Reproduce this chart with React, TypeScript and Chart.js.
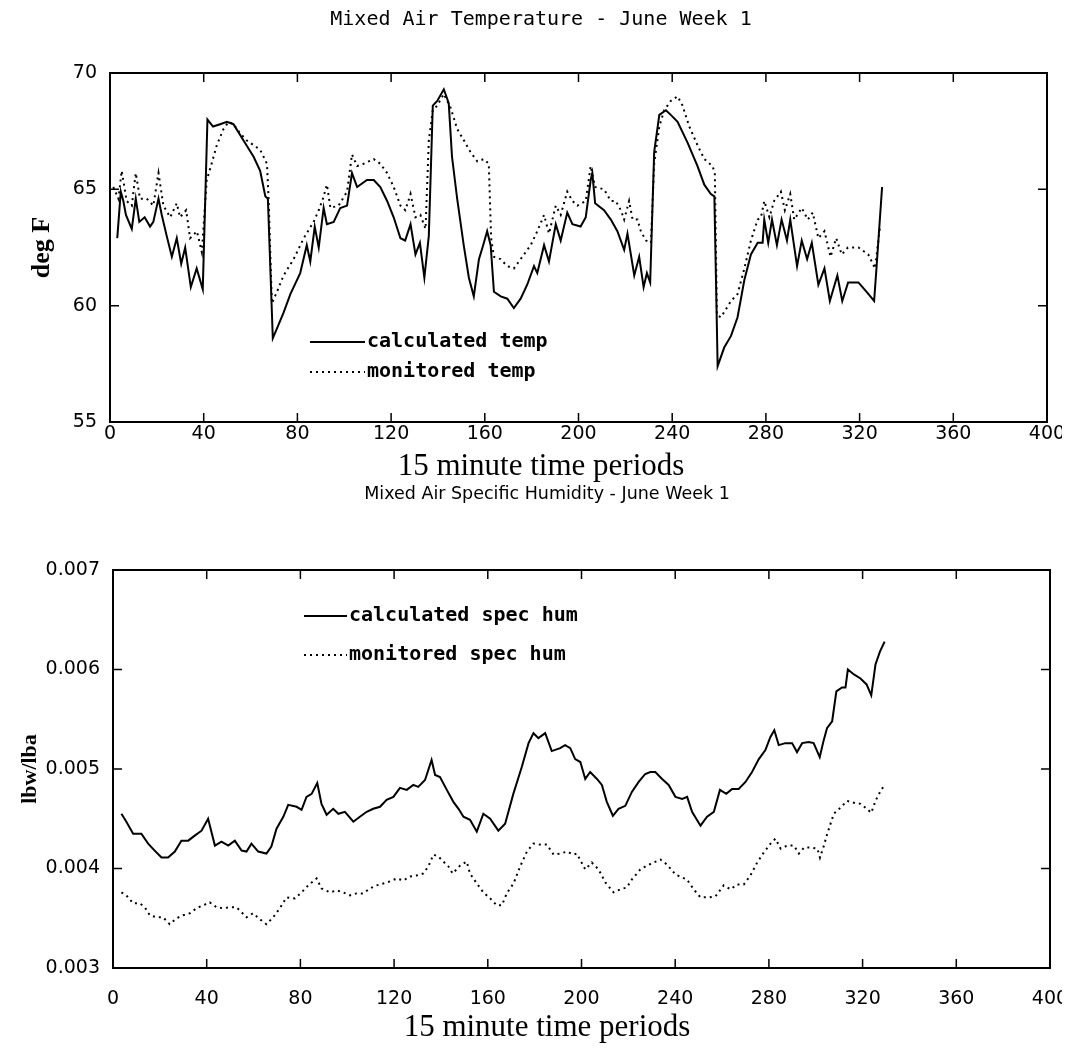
import React, { useEffect, useRef } from "react";
import { Chart, registerables } from "chart.js";

Chart.register(...registerables);

// ---------- Data: Mixed Air Temperature ----------
const tempTitle = "Mixed Air Temperature - June Week 1";
const tempYLabel = "deg F";
const xTitle = "15 minute time periods";
const xTicks = [0, 40, 80, 120, 160, 200, 240, 280, 320, 360, 400];
const tempYTicks = [55, 60, 65, 70];

const calcTempX = [3.1, 4.6, 5.7, 6.8, 9.3, 11.0, 12.5, 14.8, 17.1, 18.5, 20.7, 22.1, 24.2, 26.4, 28.5, 30.4, 32.1, 34.5, 37.0, 39.6, 41.6, 44.0, 47.0, 49.9, 52.7, 57.0, 61.3, 64.1, 66.3, 67.4, 69.5, 71.2, 74.1, 77.0, 81.2, 84.0, 85.5, 87.4, 89.1, 91.2, 92.6, 95.5, 98.3, 101.2, 103.3, 105.5, 109.7, 112.6, 115.4, 118.3, 121.1, 124.0, 126.0, 128.3, 130.4, 132.3, 134.2, 136.1, 137.8, 139.7, 142.5, 144.6, 146.0, 148.2, 151.0, 153.2, 155.3, 157.5, 159.3, 161.0, 162.5, 163.9, 166.8, 169.6, 172.4, 175.3, 178.1, 181.0, 182.4, 185.3, 187.4, 190.3, 192.4, 195.2, 197.4, 200.9, 203.1, 205.2, 205.9, 207.1, 210.9, 213.8, 216.6, 219.5, 220.9, 223.8, 225.9, 227.8, 229.2, 230.6, 232.3, 234.5, 237.3, 239.4, 242.3, 246.6, 250.8, 253.7, 256.5, 258.0, 259.4, 262.2, 265.1, 267.9, 270.8, 273.6, 276.5, 278.6, 279.3, 281.0, 282.6, 284.7, 286.7, 289.0, 290.4, 293.3, 295.3, 297.6, 299.6, 302.4, 305.0, 307.3, 310.5, 312.6, 315.1, 319.5, 322.9, 326.2, 327.2, 329.6];
const calcTempY = [62.9, 64.9, 64.5, 63.9, 63.3, 64.6, 63.6, 63.8, 63.4, 63.6, 64.6, 63.9, 63.0, 62.1, 62.9, 61.8, 62.5, 60.8, 61.6, 60.7, 68.0, 67.7, 67.8, 67.9, 67.8, 67.1, 66.4, 65.8, 64.7, 64.6, 58.6, 59.0, 59.7, 60.5, 61.4, 62.6, 61.9, 63.4, 62.5, 64.2, 63.5, 63.6, 64.2, 64.3, 65.7, 65.1, 65.4, 65.4, 65.1, 64.5, 63.8, 62.9, 62.8, 63.5, 62.2, 62.7, 61.2, 63.0, 68.6, 68.8, 69.3, 68.7, 66.4, 64.6, 62.6, 61.2, 60.4, 62.0, 62.6, 63.2, 62.6, 60.6, 60.4, 60.3, 59.9, 60.3, 60.9, 61.7, 61.4, 62.6, 61.9, 63.5, 62.8, 64.0, 63.5, 63.4, 63.8, 65.4, 65.7, 64.4, 64.1, 63.7, 63.2, 62.4, 63.1, 61.3, 62.1, 60.8, 61.4, 61.0, 66.6, 68.2, 68.4, 68.2, 67.9, 67.0, 66.0, 65.2, 64.8, 64.7, 57.4, 58.2, 58.7, 59.5, 61.1, 62.2, 62.7, 62.7, 63.7, 62.7, 63.7, 62.6, 63.7, 62.8, 63.7, 61.7, 62.8, 62.0, 62.7, 60.9, 61.6, 60.2, 61.3, 60.2, 61.0, 61.0, 60.6, 60.2, 61.6, 65.1];

const monTempX = [1.4, 3.6, 5.0, 7.1, 9.3, 11.0, 12.8, 15.7, 18.5, 20.7, 22.8, 25.7, 28.5, 29.9, 32.5, 34.2, 37.1, 39.2, 41.3, 42.8, 45.6, 48.5, 50.6, 52.7, 55.6, 58.4, 61.3, 64.1, 67.0, 67.7, 69.1, 71.3, 74.1, 78.4, 82.7, 86.9, 89.1, 90.9, 92.6, 94.1, 97.6, 101.2, 103.3, 105.5, 108.3, 112.6, 115.4, 118.3, 121.1, 124.0, 126.1, 128.3, 130.4, 132.5, 134.7, 136.1, 137.8, 139.7, 142.5, 145.4, 148.2, 151.1, 153.9, 156.8, 159.6, 161.7, 162.7, 163.9, 166.7, 169.6, 172.4, 175.3, 179.6, 182.4, 185.3, 187.4, 190.3, 192.4, 195.2, 197.4, 199.5, 203.1, 205.2, 207.1, 210.9, 213.8, 215.9, 218.1, 219.5, 221.6, 223.1, 225.2, 226.6, 228.8, 230.9, 232.3, 234.5, 236.6, 239.4, 242.3, 244.4, 247.3, 250.8, 253.7, 257.2, 258.2, 259.1, 260.8, 265.1, 267.9, 270.8, 273.6, 276.5, 277.9, 279.3, 281.5, 283.5, 286.4, 288.1, 290.4, 292.1, 295.3, 297.9, 300.0, 302.4, 305.0, 307.6, 310.0, 312.4, 315.0, 319.5, 323.7, 326.6, 328.7];
const monTempY = [65.1, 64.6, 65.8, 64.5, 64.3, 65.7, 64.6, 64.6, 64.3, 65.7, 64.3, 63.8, 64.4, 63.8, 64.1, 62.9, 63.2, 62.3, 65.4, 65.9, 66.9, 67.6, 67.9, 67.8, 67.4, 67.1, 66.9, 66.7, 66.1, 64.6, 60.1, 60.6, 61.3, 62.0, 62.9, 63.6, 64.1, 64.6, 65.2, 64.2, 64.3, 64.9, 66.5, 66.0, 66.1, 66.3, 66.1, 65.7, 65.1, 64.3, 64.1, 64.8, 63.8, 63.9, 63.3, 67.1, 68.4, 68.6, 69.1, 68.5, 67.6, 67.1, 66.6, 66.2, 66.3, 66.1, 62.9, 62.1, 62.0, 61.7, 61.6, 62.0, 62.6, 63.2, 63.9, 63.1, 64.3, 63.9, 64.9, 64.5, 64.3, 64.5, 66.0, 65.1, 65.0, 64.5, 64.5, 64.1, 63.7, 64.5, 63.7, 63.7, 63.2, 62.8, 62.7, 66.1, 67.7, 68.4, 68.8, 69.0, 68.6, 67.7, 66.9, 66.3, 66.0, 65.7, 59.6, 59.5, 60.2, 60.5, 61.6, 62.8, 63.7, 63.8, 64.5, 63.8, 64.5, 64.9, 64.1, 64.8, 63.7, 64.2, 63.7, 64.0, 62.9, 63.2, 62.1, 62.9, 62.2, 62.5, 62.5, 62.2, 61.6, 63.4];

// ---------- Data: Mixed Air Specific Humidity ----------
const humTitle = "Mixed Air Specific Humidity - June Week 1";
const humYLabel = "lbw/lba";
const humYTicks = [0.003, 0.004, 0.005, 0.006, 0.007];

const calcHumX = [3.6, 5.7, 8.6, 12.1, 15.0, 17.8, 20.7, 23.5, 26.4, 29.2, 32.1, 34.9, 37.8, 40.6, 43.5, 46.3, 49.2, 52.0, 54.9, 57.0, 59.1, 62.0, 65.5, 67.6, 69.8, 72.7, 74.8, 78.4, 80.5, 82.6, 84.8, 87.2, 89.0, 91.2, 94.0, 96.2, 99.0, 102.6, 105.4, 108.3, 111.1, 114.0, 116.8, 119.7, 122.5, 125.4, 128.2, 130.3, 133.2, 136.0, 137.5, 139.6, 142.5, 145.3, 147.5, 149.6, 152.4, 155.3, 158.1, 161.0, 164.5, 167.4, 170.9, 174.5, 177.4, 179.5, 181.6, 184.5, 187.3, 190.9, 193.0, 195.2, 197.3, 199.5, 201.6, 203.7, 206.6, 208.7, 210.8, 213.4, 215.8, 218.7, 221.5, 224.4, 227.2, 229.4, 231.5, 234.4, 237.2, 240.1, 243.0, 245.1, 247.2, 250.8, 253.6, 256.5, 259.1, 261.8, 264.3, 267.1, 270.0, 272.8, 275.7, 278.5, 280.6, 282.3, 284.2, 287.0, 289.9, 292.0, 294.2, 297.0, 299.1, 301.7, 303.4, 304.8, 307.0, 308.8, 311.2, 312.7, 313.7, 316.3, 319.1, 321.7, 323.7, 325.5, 327.4, 329.4];
const calcHumY = [0.00455, 0.00447, 0.00435, 0.00435, 0.00425, 0.00418, 0.00411, 0.00411, 0.00417, 0.00428, 0.00428, 0.00433, 0.00438, 0.0045, 0.00423, 0.00427, 0.00423, 0.00428, 0.00418, 0.00417, 0.00425, 0.00417, 0.00415, 0.00422, 0.0044, 0.00452, 0.00464, 0.00462, 0.00459, 0.00472, 0.00475, 0.00486, 0.00465, 0.00454, 0.0046, 0.00455, 0.00457, 0.00447, 0.00452, 0.00457, 0.0046, 0.00462, 0.00469, 0.00472, 0.00481, 0.00479, 0.00484, 0.00482, 0.00489, 0.00509, 0.00494, 0.00492, 0.00479, 0.00467, 0.0046, 0.00452, 0.00449, 0.00437, 0.00455, 0.0045, 0.00438, 0.00445, 0.00475, 0.00502, 0.00526, 0.00536, 0.00531, 0.00536, 0.00518, 0.00521, 0.00524, 0.00521, 0.0051, 0.00507, 0.0049, 0.00497, 0.0049, 0.00484, 0.00467, 0.00453, 0.0046, 0.00463, 0.00477, 0.00487, 0.00495, 0.00497, 0.00497, 0.0049, 0.00484, 0.00472, 0.0047, 0.00472, 0.00457, 0.00443, 0.00452, 0.00457, 0.00479, 0.00475, 0.0048, 0.0048, 0.00487, 0.00497, 0.0051, 0.00519, 0.00532, 0.00539, 0.00524, 0.00526, 0.00526, 0.00517, 0.00526, 0.00527, 0.00526, 0.00512, 0.00529, 0.00541, 0.00548, 0.00578, 0.00582, 0.00582, 0.006, 0.00595, 0.00591, 0.00585, 0.00574, 0.00605, 0.00618, 0.00628];

const monHumX = [3.6, 5.7, 8.6, 11.4, 13.6, 15.7, 18.5, 21.4, 24.2, 27.1, 29.9, 32.8, 35.6, 38.5, 41.3, 44.2, 47.0, 49.9, 52.7, 54.9, 57.0, 59.8, 62.7, 65.5, 68.4, 71.2, 74.1, 77.6, 80.5, 83.3, 86.9, 89.0, 92.6, 95.4, 98.3, 101.2, 104.0, 106.8, 109.7, 112.5, 115.4, 118.2, 121.1, 123.9, 126.8, 129.6, 132.5, 134.6, 136.8, 138.9, 141.0, 143.2, 145.0, 148.2, 151.0, 152.4, 155.3, 158.1, 161.0, 163.8, 166.0, 168.1, 171.0, 173.8, 176.7, 179.5, 182.4, 185.2, 188.1, 190.9, 193.8, 196.6, 198.0, 201.6, 204.4, 207.3, 210.2, 213.7, 216.5, 219.4, 221.5, 225.1, 228.0, 230.8, 233.7, 236.5, 240.1, 242.9, 245.0, 247.9, 250.8, 254.3, 257.2, 260.7, 263.6, 266.4, 269.3, 272.1, 275.0, 277.8, 280.7, 282.8, 285.0, 287.8, 290.7, 292.8, 295.0, 297.8, 300.7, 301.8, 303.5, 304.8, 307.7, 310.5, 313.4, 316.3, 319.1, 321.3, 323.7, 325.5, 327.7, 329.1];
const monHumY = [0.00376, 0.00373, 0.00365, 0.00365, 0.00361, 0.00353, 0.00351, 0.00351, 0.00344, 0.0035, 0.00353, 0.00355, 0.0036, 0.00363, 0.00366, 0.00361, 0.0036, 0.00361, 0.00361, 0.00356, 0.00351, 0.00355, 0.00349, 0.00344, 0.00351, 0.0036, 0.00371, 0.0037, 0.00376, 0.00383, 0.0039, 0.0038, 0.00376, 0.00378, 0.00376, 0.00373, 0.00375, 0.00375, 0.0038, 0.00383, 0.00385, 0.00387, 0.0039, 0.00388, 0.00392, 0.00393, 0.00395, 0.00402, 0.00414, 0.00412, 0.00407, 0.00402, 0.00395, 0.00403, 0.00407, 0.00395, 0.00385, 0.00376, 0.0037, 0.00363, 0.00363, 0.00375, 0.00385, 0.00402, 0.00417, 0.00425, 0.00424, 0.00424, 0.00414, 0.00415, 0.00417, 0.00414, 0.00415, 0.00399, 0.00406, 0.00399, 0.00386, 0.00376, 0.00379, 0.00381, 0.00389, 0.00399, 0.00403, 0.00406, 0.00409, 0.00404, 0.00394, 0.00391, 0.00389, 0.00379, 0.00371, 0.00371, 0.00372, 0.00383, 0.00379, 0.00384, 0.00384, 0.00393, 0.00406, 0.00416, 0.00425, 0.0043, 0.0042, 0.00423, 0.00423, 0.00415, 0.00421, 0.00421, 0.0042, 0.00411, 0.00423, 0.00434, 0.00455, 0.00461, 0.00468, 0.00466, 0.00465, 0.00461, 0.00456, 0.00468, 0.00478, 0.00483];

const seriesNames = {
  calcTemp: "calculated temp",
  monTemp: "monitored temp",
  calcHum: "calculated spec hum",
  monHum: "monitored spec hum",
};

// ---------- helpers ----------
const toPoints = (xs: number[], ys: number[]) => xs.map((x, i) => ({ x, y: ys[i] }));
const DOTTED = [2, 4];

const framePlugin = {
  id: "frameTicks",
  afterDatasetsDraw(chart: any) {
    const { ctx, chartArea: a, scales } = chart;
    const L = 9;
    ctx.save();
    ctx.strokeStyle = "#000";
    ctx.lineWidth = 2;
    ctx.strokeRect(a.left, a.top, a.right - a.left, a.bottom - a.top);
    ctx.lineWidth = 1.5;
    ctx.beginPath();
    scales.x.ticks.forEach((t: any) => {
      const px = scales.x.getPixelForValue(t.value);
      if (px <= a.left + 1 || px >= a.right - 1) return;
      ctx.moveTo(px, a.bottom);
      ctx.lineTo(px, a.bottom - L);
      ctx.moveTo(px, a.top);
      ctx.lineTo(px, a.top + L);
    });
    scales.y.ticks.forEach((t: any) => {
      const py = scales.y.getPixelForValue(t.value);
      if (py <= a.top + 1 || py >= a.bottom - 1) return;
      ctx.moveTo(a.left, py);
      ctx.lineTo(a.left + L, py);
      ctx.moveTo(a.right, py);
      ctx.lineTo(a.right - L, py);
    });
    ctx.stroke();
    ctx.restore();
  },
};

const insideLegendPlugin = {
  id: "insideLegend",
  afterDatasetsDraw(chart: any, _args: any, opts: any) {
    const { ctx, chartArea: a } = chart;
    ctx.save();
    ctx.font = "bold 20px 'DejaVu Sans Mono'";
    ctx.fillStyle = "#000";
    ctx.textBaseline = "middle";
    chart.data.datasets.forEach((ds: any, i: number) => {
      const y = a.top + opts.top + i * opts.gap;
      const x0 = a.left + opts.left;
      ctx.strokeStyle = "#000";
      ctx.lineWidth = 2;
      ctx.setLineDash(ds.borderDash || []);
      ctx.beginPath();
      ctx.moveTo(x0, y);
      ctx.lineTo(x0 + opts.sample, y);
      ctx.stroke();
      ctx.setLineDash([]);
      ctx.fillText(ds.label, x0 + opts.sample + 2, y);
    });
    ctx.restore();
  },
};

const tickFont = { family: "'DejaVu Sans'", size: 19 };

function makeConfig(p: any) {
  return {
    type: "line",
    data: {
      datasets: [
        {
          label: p.names[0],
          data: p.data[0],
          borderColor: "#000",
          borderWidth: 2,
          pointRadius: 0,
          tension: 0,
        },
        {
          label: p.names[1],
          data: p.data[1],
          borderColor: "#000",
          borderWidth: 2,
          borderDash: DOTTED,
          pointRadius: 0,
          tension: 0,
        },
      ],
    },
    options: {
      animation: false,
      responsive: false,
      maintainAspectRatio: false,
      parsing: false,
      layout: { padding: { left: p.padLeft, right: p.padRight, top: 0, bottom: 0 } },
      plugins: {
        legend: { display: false },
        tooltip: { enabled: false },
        title: {
          display: true,
          text: p.title,
          color: "#000",
          font: p.titleFont,
          padding: { top: 0, bottom: p.titleGap },
        },
        subtitle: {
          display: true,
          position: "bottom",
          text: xTitle,
          color: "#000",
          font: { family: "'Liberation Serif'", size: 31, weight: "normal", lineHeight: 1.1 },
          padding: { top: 0, bottom: p.subBottom },
        },
        insideLegend: p.legend,
      },
      scales: {
        x: {
          type: "linear",
          min: 0,
          max: 400,
          grid: { display: false, drawTicks: false },
          border: { display: false },
          afterBuildTicks: (s: any) => {
            s.ticks = xTicks.map((v) => ({ value: v }));
          },
          ticks: {
            color: "#000",
            font: tickFont,
            padding: p.xTickPad,
            maxRotation: 0,
            autoSkip: false,
            callback: (v: any) => String(v),
          },
          afterFit: (s: any) => {
            s.height = p.xHeight;
            s.paddingLeft = 0;
            s.paddingRight = 0;
          },
        },
        y: {
          type: "linear",
          min: p.yTicks[0],
          max: p.yTicks[p.yTicks.length - 1],
          grid: { display: false, drawTicks: false },
          border: { display: false },
          afterBuildTicks: (s: any) => {
            s.ticks = p.yTicks.map((v: number) => ({ value: v }));
          },
          ticks: {
            color: "#000",
            font: tickFont,
            padding: 13,
            autoSkip: false,
            callback: p.yFmt,
          },
          title: {
            display: true,
            text: p.yLabel,
            color: "#000",
            font: p.yTitleFont,
            padding: { top: p.yTitlePad, bottom: 0 },
          },
          afterFit: (s: any) => {
            s.width = p.yWidth;
            s.paddingTop = 0;
            s.paddingBottom = 0;
          },
        },
      },
    },
    plugins: [framePlugin, insideLegendPlugin],
  };
}

function ChartBox({ config, width, height }: { config: any; width: number; height: number }) {
  const ref = useRef<HTMLCanvasElement | null>(null);
  useEffect(() => {
    if (!ref.current) return;
    const chart = new Chart(ref.current, config);
    return () => chart.destroy();
  }, [config]);
  return (
    <div style={{ width, height }}>
      <canvas ref={ref} width={width} height={height} style={{ display: "block" }} />
    </div>
  );
}

const W = 1060;

const tempConfig = makeConfig({
  names: [seriesNames.calcTemp, seriesNames.monTemp],
  data: [toPoints(calcTempX, calcTempY), toPoints(monTempX, monTempY)],
  title: tempTitle,
  titleFont: { family: "'DejaVu Sans Mono'", size: 20, weight: "normal", lineHeight: 1.2 },
  titleGap: 41,
  subBottom: 0,
  padLeft: 27,
  padRight: W - 1039,
  xHeight: 27.9,
  xTickPad: 1,
  yTicks: tempYTicks,
  yFmt: (v: any) => String(v),
  yLabel: tempYLabel,
  yTitleFont: { family: "'Liberation Serif'", size: 26, weight: "bold", lineHeight: 1.2 },
  yTitlePad: -8.6,
  yWidth: 75,
  legend: { left: 200, top: 269, gap: 30, sample: 55 },
});

const humConfig = makeConfig({
  names: [seriesNames.calcHum, seriesNames.monHum],
  data: [toPoints(calcHumX, calcHumY), toPoints(monHumX, monHumY)],
  title: humTitle,
  titleFont: { family: "'DejaVu Sans'", size: 17.5, weight: "normal", lineHeight: 1.2 },
  titleGap: 65,
  subBottom: 0,
  padLeft: 36,
  padRight: W - 1042,
  xHeight: 42.9,
  xTickPad: 20,
  yTicks: humYTicks,
  yFmt: (v: any) => Number(v).toFixed(3),
  yLabel: humYLabel,
  yTitleFont: { family: "'Liberation Serif'", size: 22, weight: "bold", lineHeight: 1.2 },
  yTitlePad: -27.2,
  yWidth: 69,
  legend: { left: 191, top: 46, gap: 39, sample: 43 },
});

export default function App() {
  return (
    <div style={{ width: W }}>
      <ChartBox config={tempConfig} width={W} height={476} />
      <ChartBox config={humConfig} width={W} height={561} />
    </div>
  );
}
